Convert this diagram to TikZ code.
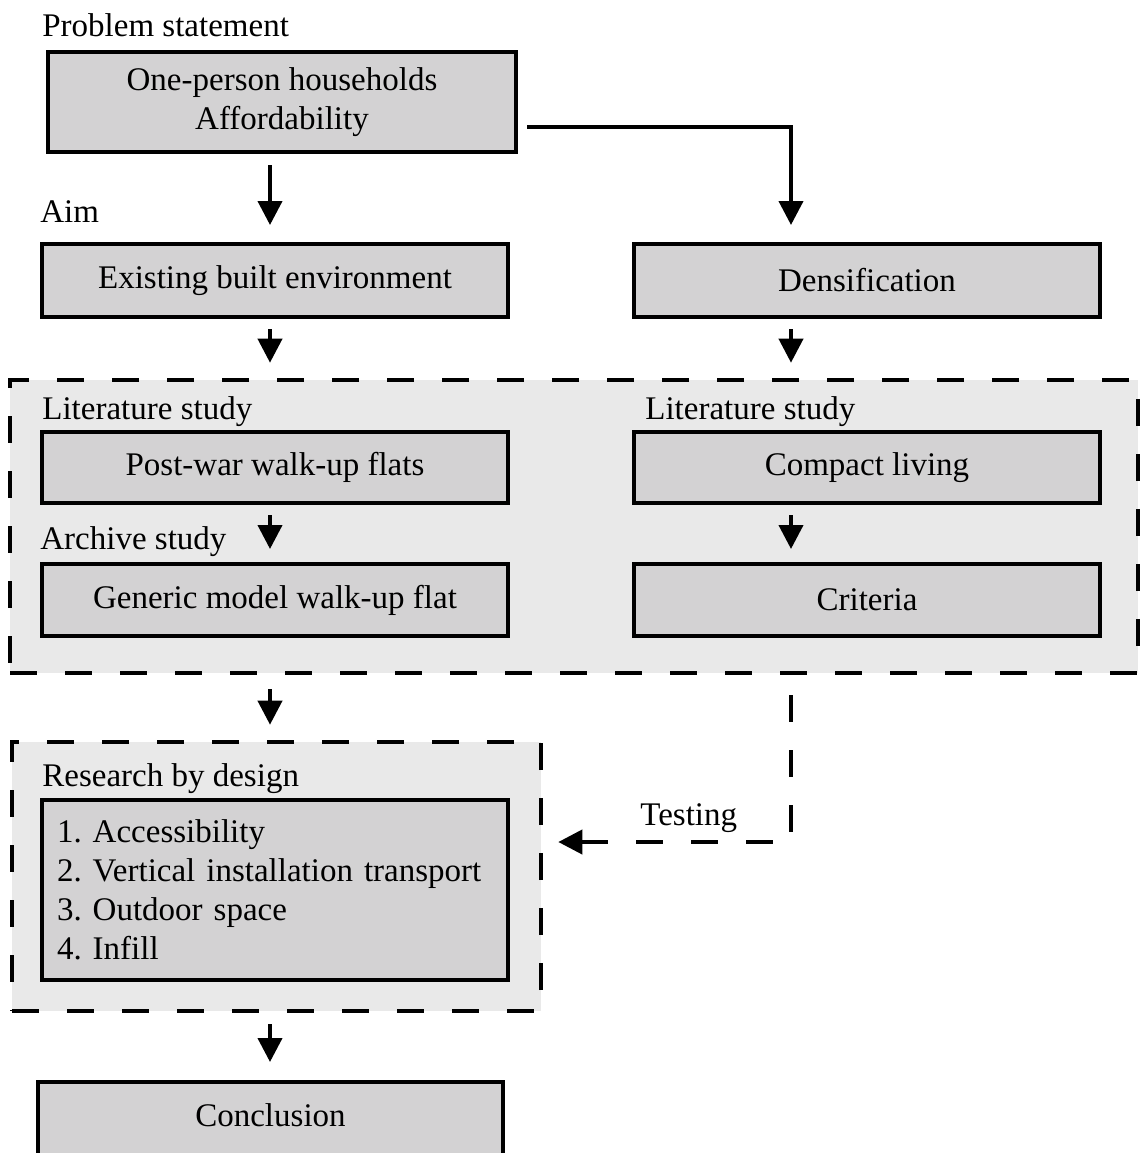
\documentclass[tikz,border=0pt]{standalone}
\usepackage{fontspec}
\setmainfont{Liberation Serif}
\usetikzlibrary{arrows.meta,calc}
\definecolor{boxfill}{HTML}{D3D2D3}
\definecolor{regfill}{HTML}{E9E9E9}
\begin{document}
\frenchspacing
\hyphenpenalty=10000
\begin{tikzpicture}[x=0.5pt,y=-0.5pt,
  every node/.style={font=\fontsize{16.5}{19.5}\selectfont},
  box/.style={draw=black, fill=boxfill, line width=2pt, rectangle, inner sep=0pt, align=center},
  region/.style={draw=black, fill=regfill, line width=2.3pt, dash pattern=on 13.5pt off 14pt, rectangle, inner sep=0pt},
  arr/.style={line width=2pt, -{Triangle[length=12pt,width=12pt]}},
  darr/.style={arr, dash pattern=on 13.5pt off 14pt},
  lbl/.style={anchor=base west, inner sep=0pt},
]
\useasboundingbox (0,0) rectangle (1142,1153);
\clip (0,0) rectangle (1142,1153);

\coordinate (colL) at (270,0);
\coordinate (colR) at (791,0);
\coordinate (trow) at (0,842);

% dashed regions
\node[region, minimum width=564pt, minimum height=146.5pt] (reg1) at (574,526.5) {};
\node[region, minimum width=264.5pt, minimum height=134.5pt] (reg2) at (276.5,876.5) {};

% boxes
\node[box, minimum width=234pt, minimum height=50pt, text depth=3pt] (b1) at (282,102) {One-person households\\Affordability};
\node[box, minimum width=233pt, minimum height=36.5pt] (exist) at (275,280.5) {Existing built environment};
\node[box, minimum width=233pt, minimum height=36.5pt] (dens) at (867,280.5) {Densification};
\node[box, minimum width=233pt, minimum height=35.5pt] (post) at (275,467.5) {Post-war walk-up flats};
\node[box, minimum width=233pt, minimum height=35.5pt] (compact) at (867,467.5) {Compact living};
\node[box, minimum width=233pt, minimum height=36pt] (generic) at (275,600) {Generic model walk-up flat};
\node[box, minimum width=233pt, minimum height=36pt] (crit) at (867,600) {Criteria};
\node[box, minimum width=233pt, minimum height=90pt, align=left, text width=218pt, inner xsep=7.5pt] (list) at (275,890)
  {1. Accessibility\\2. Vertical installation transport\\3. Outdoor space\\4. Infill};
\node[box, minimum width=232.5pt, anchor=north, text height=22pt, text depth=30pt] (concl) at (270.5,1080) {Conclusion};

% labels
\node[lbl] (lps) at (42,36) {Problem statement};
\node[lbl] (laim) at (40,222) {Aim};
\node[lbl] (llit1) at (42,419) {Literature study};
\node[lbl] (llit2) at (645,419) {Literature study};
\node[lbl] (larch) at (40,549) {Archive study};
\node[lbl] (lrbd) at (42,786) {Research by design};
\node[lbl] (ltest) at (640,825) {Testing};

% connectors
\draw[arr, shorten <=5.5pt, shorten >=8.5pt] (b1.south -| colL) -- (exist.north -| colL);
\draw[arr, shorten >=8.5pt] ($(b1.east)+(9,25)$) -| (dens.north -| colR);
\draw[arr, shorten <=5pt, shorten >=7.5pt] (exist.south -| colL) -- (reg1.north -| colL);
\draw[arr, shorten <=5pt, shorten >=7.5pt] (dens.south -| colR) -- (reg1.north -| colR);
\draw[arr, shorten <=5pt, shorten >=6.5pt] (post.south -| colL) -- (generic.north -| colL);
\draw[arr, shorten <=5pt, shorten >=6.5pt] (compact.south -| colR) -- (crit.north -| colR);
\draw[arr, shorten <=7pt, shorten >=7.5pt] (reg1.south -| colL) -- (reg2.north -| colL);
\draw[arr, shorten <=5.5pt, shorten >=9pt] (reg2.south -| colL) -- (concl.north -| colL);
\draw[darr, shorten >=7.5pt] ($(reg1.south -| colR)+(0,20)$) |- (reg2.east |- trow);
\end{tikzpicture}
\end{document}
